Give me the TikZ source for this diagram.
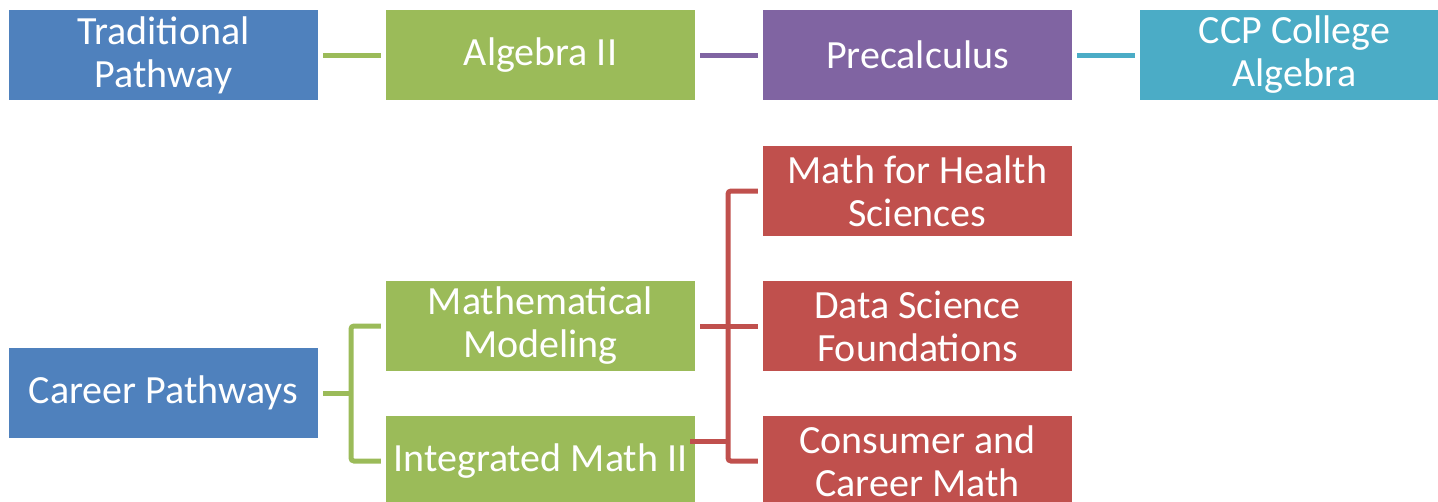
\documentclass[tikz,border=0pt]{standalone}
\usepackage{fontspec}
\setmainfont{Carlito}
\usepackage{tikz}
\usetikzlibrary{shapes,arrows}

\definecolor{pblue}{HTML}{4F81BD}
\definecolor{pgreen}{HTML}{9BBB59}
\definecolor{ppurple}{HTML}{8064A2}
\definecolor{pteal}{HTML}{4BACC6}
\definecolor{pred}{HTML}{C0504D}

\begin{document}
\begin{tikzpicture}[x=1pt,y=-1pt,
  course/.style={rectangle,minimum width=309pt,minimum height=90pt,inner sep=0pt,
    text=white,align=center,font=\fontsize{40}{43}\selectfont},
  link/.style={line width=5pt,rounded corners=3pt}]
\clip (0,0) rectangle (1438,501);
% top row
\node[course,fill=pblue] (trad) at (163.5,55) {Traditional\\Pathway};
\node[course,fill=pgreen] (alg) at (540.5,55) {Algebra II};
\node[course,fill=ppurple] (pre) at (917.5,55) {Precalculus};
\node[course,fill=pteal] (ccp) at (1294.5,55) {CCP College\\Algebra};
% career side
\node[course,fill=pblue] (career) at (163.5,393) {Career Pathways};
\node[course,fill=pgreen] (model) at (540.5,326) {Mathematical\\Modeling};
\node[course,fill=pgreen] (integ) at (540.5,461) {Integrated Math II};
\node[course,fill=pred] (health) at (917.5,191) {Math for Health\\Sciences};
\node[course,fill=pred] (data) at (917.5,326) {Data Science\\Foundations};
\node[course,fill=pred] (consumer) at (917.5,461) {Consumer and\\Career Math};
\coordinate (gj) at (351,393);
\coordinate (rj) at (728,326);
\draw[link,pgreen] ([xshift=5pt]trad.east) -- ([xshift=-5pt]alg.west);
\draw[link,ppurple] ([xshift=5pt]alg.east) -- ([xshift=-5pt]pre.west);
\draw[link,pteal] ([xshift=5pt]pre.east) -- ([xshift=-5pt]ccp.west);
\draw[link,pgreen] ([xshift=5pt]career.east) -- (gj);
\draw[link,pgreen] ([xshift=-5pt]model.west) -| (gj) |- ([xshift=-5pt]integ.west);
\draw[link,pred] ([xshift=-5pt]health.west) -| (rj) |- ([xshift=-5pt]consumer.west);
\draw[link,pred] ([xshift=5pt]model.east) -- ([xshift=-5pt]data.west);
\draw[link,pred] ([shift={(-5,-20)}]integ.east) -- ++(38,0);
\end{tikzpicture}
\end{document}
